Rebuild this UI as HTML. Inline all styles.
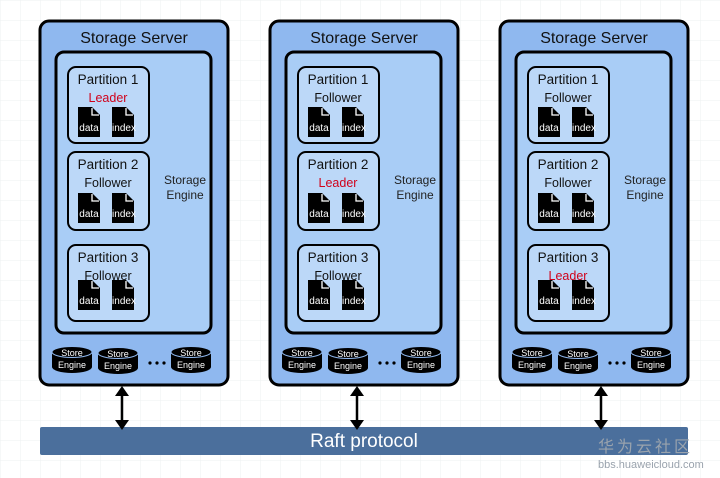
<!DOCTYPE html>
<html><head><meta charset="utf-8"><style>
body{margin:0;background:#fff}
svg{display:block;font-family:"Liberation Sans","Noto Sans CJK SC",sans-serif}
</style></head><body>
<svg width="720" height="478" viewBox="0 0 720 478" xmlns="http://www.w3.org/2000/svg">
<defs>
<pattern id="grid" width="20" height="20" patternUnits="userSpaceOnUse">
<path d="M20 0H0V20" fill="none" stroke="#eef0f2" stroke-width="1"/>
</pattern>
<g id="doc">
<path d="M0 0H14L22 8V30H0Z" fill="#000"/>
<path d="M14 1V8H21" fill="none" stroke="#fff" stroke-width="1.3"/>
</g>
<g id="cyl">
<path d="M0 5V20A20 6 0 0 0 40 20V5" fill="#000"/>
<ellipse cx="20" cy="5" rx="20" ry="5.5" fill="#000" stroke="#8fb8ef" stroke-width="1"/>
<text x="20" y="9" font-size="9" fill="#fff" text-anchor="middle">Store</text>
<text x="20" y="21" font-size="9" fill="#fff" text-anchor="middle">Engine</text>
</g>
<g id="srv">
<rect x="40" y="21" width="188" height="364" rx="9" fill="#8fb8ef" stroke="#000" stroke-width="3"/>
<text x="134" y="43" font-size="16" text-anchor="middle" fill="#111">Storage Server</text>
<rect x="56" y="52" width="155" height="281" rx="8" fill="#a9cdf6" stroke="#000" stroke-width="3"/>
<text x="185" y="184" font-size="12" text-anchor="middle" fill="#222">Storage</text>
<text x="185" y="199" font-size="12" text-anchor="middle" fill="#222">Engine</text>
<rect x="68" y="67" width="81" height="76" rx="8" fill="#bcd8f8" stroke="#000" stroke-width="2"/>
<rect x="68" y="152" width="81" height="78" rx="8" fill="#bcd8f8" stroke="#000" stroke-width="2"/>
<rect x="68" y="245" width="81" height="76" rx="8" fill="#bcd8f8" stroke="#000" stroke-width="2"/>
<text x="108" y="84" font-size="13.5" text-anchor="middle" fill="#111">Partition 1</text>
<text x="108" y="169" font-size="13.5" text-anchor="middle" fill="#111">Partition 2</text>
<text x="108" y="262" font-size="13.5" text-anchor="middle" fill="#111">Partition 3</text>
<use href="#doc" x="78" y="107"/><use href="#doc" x="112" y="107"/>
<use href="#doc" x="78" y="193"/><use href="#doc" x="112" y="193"/>
<use href="#doc" x="78" y="280"/><use href="#doc" x="112" y="280"/>
<g font-size="10" fill="#fff" text-anchor="middle">
<text x="89" y="131">data</text><text x="124" y="131">index</text>
<text x="89" y="217">data</text><text x="124" y="217">index</text>
<text x="89" y="304">data</text><text x="124" y="304">index</text>
</g>
<use href="#cyl" x="52" y="347"/><use href="#cyl" x="98" y="348"/><use href="#cyl" x="171" y="347"/>
<g fill="#000"><circle cx="150" cy="363" r="1.6"/><circle cx="157" cy="363" r="1.6"/><circle cx="164" cy="363" r="1.6"/></g>
</g>
</defs>
<rect width="720" height="478" fill="url(#grid)"/>
<rect x="40" y="427" width="648" height="28" rx="2" fill="#4b6f9c"/>
<text x="364" y="447" font-size="19" fill="#fff" text-anchor="middle">Raft protocol</text>

<use href="#srv"/>
<use href="#srv" x="230"/>
<use href="#srv" x="460"/>

<g font-size="12.5" text-anchor="middle">
<text x="108" y="102" fill="#d0021b">Leader</text>
<text x="108" y="187" fill="#111">Follower</text>
<text x="108" y="280" fill="#111">Follower</text>
<text x="338" y="102" fill="#111">Follower</text>
<text x="338" y="187" fill="#d0021b">Leader</text>
<text x="338" y="280" fill="#111">Follower</text>
<text x="568" y="102" fill="#111">Follower</text>
<text x="568" y="187" fill="#111">Follower</text>
<text x="568" y="280" fill="#d0021b">Leader</text>
</g>

<g stroke="#000" stroke-width="2.5" fill="#000">
<line x1="122" y1="394" x2="122" y2="422"/>
<path d="M115 396L122 386L129 396Z" stroke="none"/><path d="M115 420L122 430L129 420Z" stroke="none"/>
<line x1="357" y1="394" x2="357" y2="422"/>
<path d="M350 396L357 386L364 396Z" stroke="none"/><path d="M350 420L357 430L364 420Z" stroke="none"/>
<line x1="601" y1="394" x2="601" y2="422"/>
<path d="M594 396L601 386L608 396Z" stroke="none"/><path d="M594 420L601 430L608 420Z" stroke="none"/>
</g>

<text x="598" y="452" font-size="16" fill="#9aa3ad" letter-spacing="3">华为云社区</text>
<text x="598" y="468" font-size="11" fill="#9aa3ad">bbs.huaweicloud.com</text>
</svg>
</body></html>
